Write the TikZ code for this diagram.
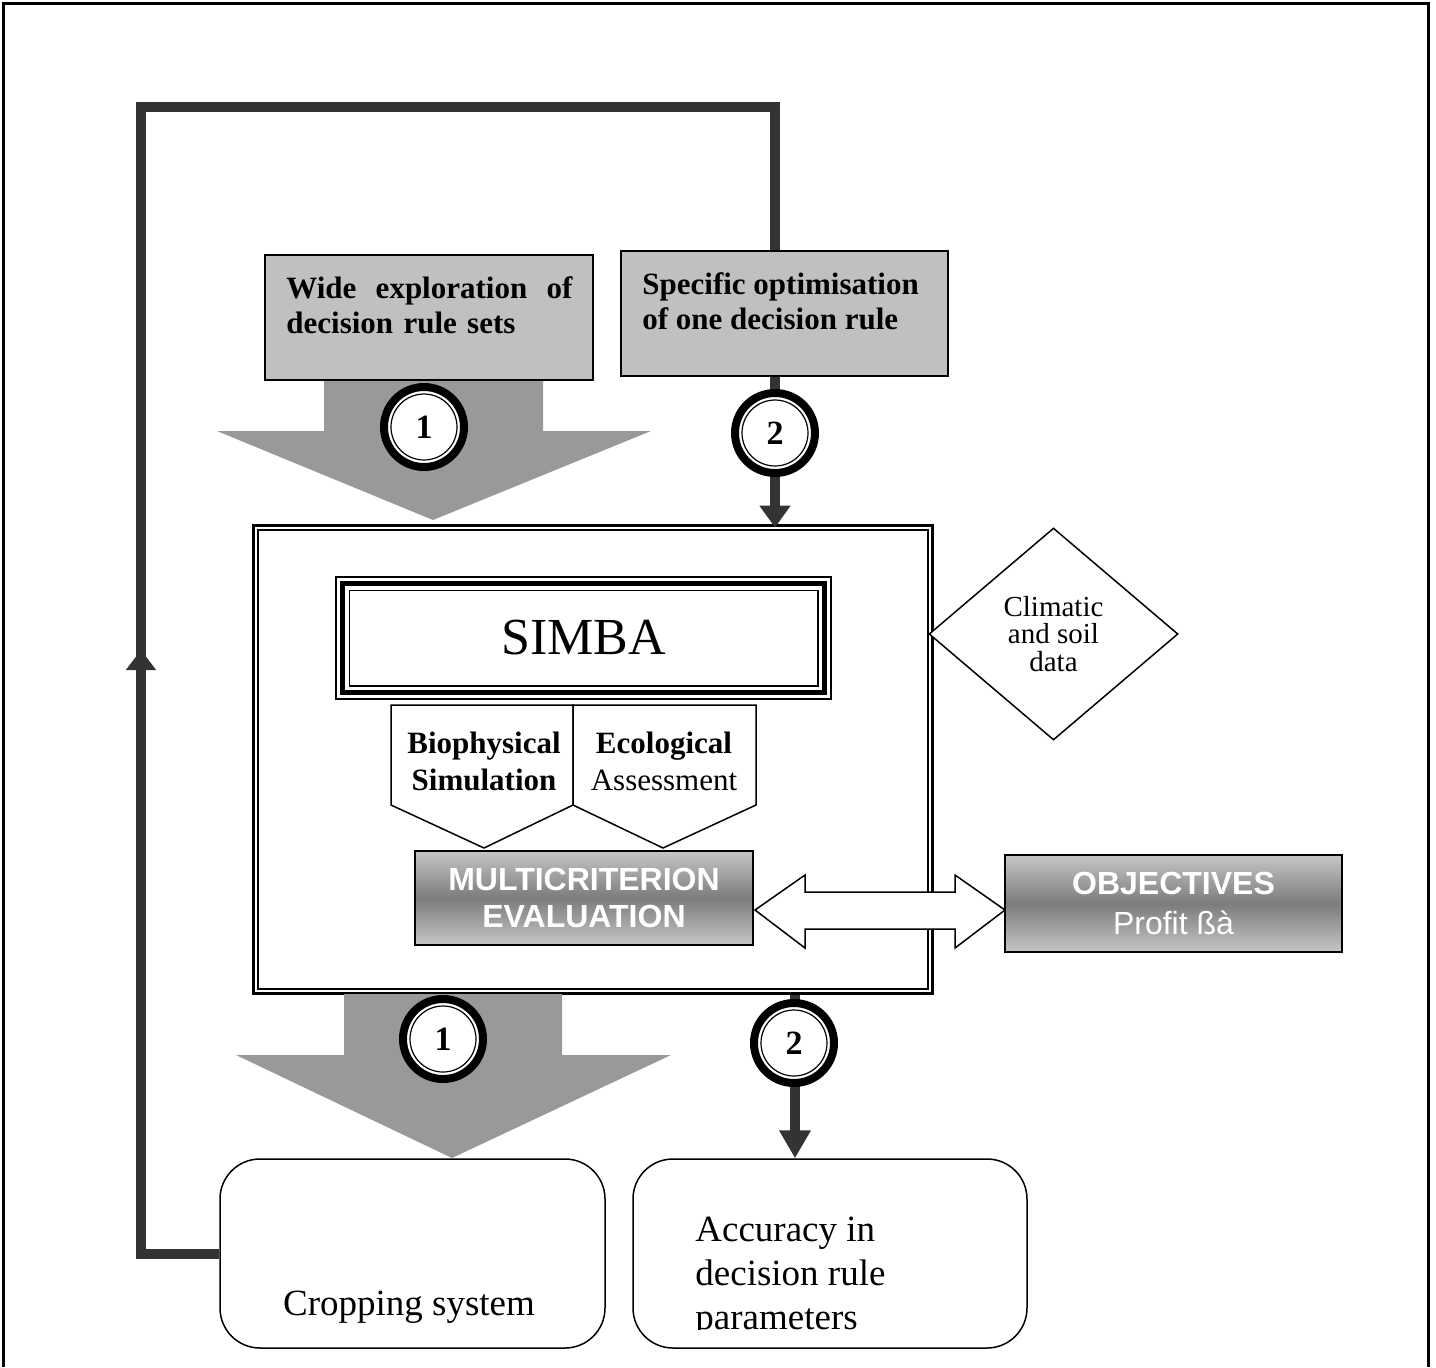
\documentclass[tikz,border=0pt]{standalone}
\usepackage{fontspec}
\setmainfont{Liberation Serif}
\newfontfamily\arialf{Liberation Sans}
\usetikzlibrary{calc,shapes.geometric,arrows.meta}
\definecolor{darkline}{HTML}{333333}
\definecolor{boxgray}{HTML}{C0C0C0}
\definecolor{arrowgray}{HTML}{999999}
\definecolor{gradlight}{HTML}{C6C6C6}
\definecolor{graddark}{HTML}{7C7C7C}
\newcommand{\fsz}[2]{\fontsize{#1}{#2}\selectfont}
\begin{document}
\begin{tikzpicture}[x=0.5pt,y=-0.5pt,line join=miter,
  graybox/.style={draw=black, line width=0.75pt, fill=boxgray, inner sep=0},
  gradbox/.style={draw=black, line width=0.75pt, top color=gradlight, bottom color=gradlight, middle color=graddark, inner sep=0, text=white, align=center},
  roundbox/.style={draw=black, line width=0.75pt, rounded corners=20pt, inner sep=0, fill=white},
  loopline/.style={draw=darkline, line width=5pt},
  ringout/.style={circle, draw=black, fill=white, line width=4pt, minimum size=40pt, inner sep=0},
  ringin/.style={circle, draw=black, fill=white, line width=0.6pt, minimum size=33pt, inner sep=0, font=\fsz{17}{19}\bfseries},
  pentabox/.style={draw=black, line width=0.75pt, fill=white}]
\useasboundingbox (0,0) rectangle (1436,1367);

% outer frame
\draw[line width=1.5pt] (3,1367) -- (3,3) -- (1428,3) -- (1428,1367);

% boxes
\node[graybox, minimum width=164pt, minimum height=62.5pt] (wide) at (429,317.5) {};
\node[anchor=north west, inner sep=0, text width=143pt, align=left, font=\fsz{15.5}{17.5}\bfseries] (widet) at (286,276)
  {\hbox to 143pt{Wide\hfill exploration\hfill of}\\decision rule sets};
\node[graybox, minimum width=163.5pt, minimum height=62.5pt] (spec) at (784.5,313.5) {};
\node[anchor=north west, inner sep=0, align=left, font=\fsz{15.5}{17.5}\bfseries] (spect) at (642,272)
  {Specific optimisation\\of one decision rule};

\node[roundbox, minimum width=192.5pt, minimum height=94.5pt] (crop) at (412.5,1253.5) {};
\node[anchor=base, inner sep=0, font=\fsz{18.5}{22}] (cropt) at (409,1315) {Cropping system};
\node[roundbox, minimum width=197pt, minimum height=94.5pt] (acc) at (830,1253.5) {};
\begin{scope}
  \clip (640,1170) rectangle (1020,1329);
  \node[anchor=north west, inner sep=0, align=left, font=\fsz{18.5}{22}] (acct) at (695,1217)
    {Accuracy in\\decision rule\\parameters};
\end{scope}

% main frame
\node[draw, line width=1.5pt, minimum width=339.5pt, minimum height=234pt, inner sep=0] (frame) at (592.5,759) {};
\draw[line width=1pt] ($(frame.north west)+(6,6)$) rectangle ($(frame.south east)+(-6,-6)$);

% loop connector
\coordinate (lbl) at (141,1253.5);
\coordinate (tl) at (141,107);
\coordinate (tr) at (775,107);
\coordinate (lmid) at (141,650);
\coordinate (b2) at (795,1000);
\draw[loopline] (crop.west) -- (lbl) -- (tl) -- (tr) -- (spec.north -| tr);
\draw[loopline, -{Triangle[width=14.5pt,length=10pt]}] (lbl) -- (lmid);

% path 2 connectors
\draw[loopline, -{Triangle[width=15pt,length=11pt]}] (spec.south -| tr) -- ($(frame.north -| tr)+(0,4)$);
\draw[loopline, -{Triangle[width=15pt,length=14pt]}] (frame.south -| b2) -- (acc.north -| b2);

% big gray arrows
\fill[arrowgray] (324,381) -- (543,381) -- (543,431) -- (651,431) -- (433,520) -- (217,431) -- (324,431) -- cycle;
\fill[arrowgray] (344,994) -- (562,994) -- (562,1055) -- (671,1055) -- (452,1158) -- (236,1055) -- (344,1055) -- cycle;

% rings
\node[ringout] (r1a) at (424,427) {};
\node[ringin] (r1ai) at (r1a) {1};
\node[ringout] (r2a) at (775,433) {};
\node[ringin] (r2ai) at (r2a) {2};
\node[ringout] (r1b) at (443,1039) {};
\node[ringin] (r1bi) at (r1b) {1};
\node[ringout] (r2b) at (794,1043) {};
\node[ringin] (r2bi) at (r2b) {2};

% SIMBA
\node[draw, line width=0.75pt, minimum width=247.5pt, minimum height=61pt, inner sep=0, font=\fsz{26}{30}] (simba) at (583.5,638) {SIMBA};
\draw[line width=2.5pt] ($(simba.north west)+(7,7)$) rectangle ($(simba.south east)+(-7,-7)$);
\draw[line width=0.75pt] ($(simba.north west)+(14,14)$) rectangle ($(simba.south east)+(-14,-14)$);

% pentagons
\draw[pentabox] (391,705) -- (573,705) -- (573,805) -- (484,848) -- (391,805) -- cycle;
\draw[pentabox] (573,705) -- (756,705) -- (756,805) -- (663,848) -- (573,805) -- cycle;
\node[anchor=north, inner sep=0, align=center, font=\fsz{15.5}{18.5}\bfseries] (bio) at (484,732) {Biophysical\\Simulation};
\node[anchor=north, inner sep=0, align=center, font=\fsz{15.5}{18.5}] (eco) at (664,732) {\textbf{Ecological}\\Assessment};

% multicriterion & objectives
\node[gradbox, minimum width=169pt, minimum height=47pt, font=\arialf\bfseries\fsz{16}{18.5}] (multi) at (584,898) {MULTICRITERION\\EVALUATION};
\node[gradbox, minimum width=168.5pt, minimum height=48.5pt, font=\arialf\fsz{16}{20}] (obj) at (1173.5,903.5) {\textbf{OBJECTIVES}\\Profit ßà};
\draw[line width=0.75pt, fill=white] (755,910) -- (805,875) -- (805,892) -- (955,892) -- (955,875) -- (1005,910) -- (955,948) -- (955,929) -- (805,929) -- (805,948) -- cycle;

% climatic diamond
\node[diamond, draw, line width=0.75pt, fill=white, minimum width=124.5pt, minimum height=106pt, shape aspect=1.17, inner sep=0, align=center, font=\fsz{14.5}{13.75}] (clim) at (1053.5,634) {Climatic\\and soil\\data};
\end{tikzpicture}
\end{document}
